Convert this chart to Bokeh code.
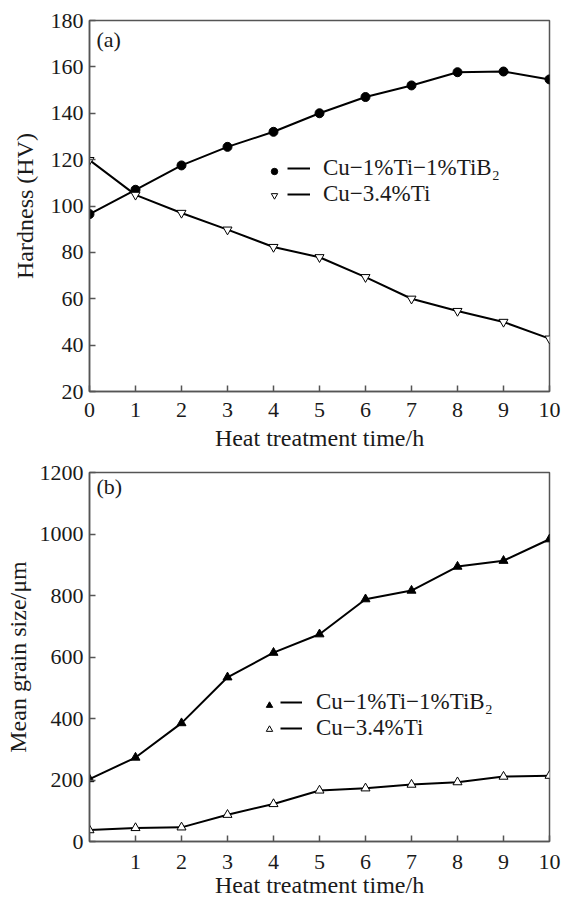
from bokeh.plotting import figure
from bokeh.models import Range1d, FixedTicker, Legend, LegendItem, Label
from bokeh.layouts import column
from bokeh.embed import file_html
from bokeh.resources import INLINE

# ---- data ----
time_h = [0, 1, 2, 3, 4, 5, 6, 7, 8, 9, 10]
hard_tib2 = [96.5, 107, 117.5, 125.5, 132, 140, 147, 152, 157.7, 158, 154.6]
hard_ti = [119.8, 104.8, 97, 89.8, 82.3, 77.9, 69.3, 60, 54.7, 50, 42.8]
grain_tib2 = [203, 273, 385, 534, 614, 674, 788, 816, 894, 913, 983]
grain_ti = [37, 44, 46, 87, 122, 166, 173, 185, 193, 211, 214]
label_tib2 = "Cu\u22121%Ti\u22121%TiB\u2082"
label_ti = "Cu\u22123.4%Ti"
x_ticks_a = [0, 1, 2, 3, 4, 5, 6, 7, 8, 9, 10]
x_ticks_b = [1, 2, 3, 4, 5, 6, 7, 8, 9, 10]
y_ticks_a = [20, 40, 60, 80, 100, 120, 140, 160, 180]
y_ticks_b = [0, 200, 400, 600, 800, 1000, 1200]

FONT = "Liberation Serif"
TXT = "#1a1a1a"
FRAME = "#555555"


def base_fig(height, ymin, ymax, xticks, yticks, ylabel, bt, bb, xs1, xs2, ys2):
    p = figure(width=561, height=height, x_range=Range1d(0, 10),
               y_range=Range1d(ymin, ymax), output_backend="svg",
               toolbar_location=None, min_border_left=89, min_border_right=12,
               min_border_top=bt, min_border_bottom=bb)
    p.grid.visible = False
    p.outline_line_color = FRAME
    p.outline_line_width = 1.5
    p.background_fill_color = "white"
    p.border_fill_color = "white"
    p.xaxis.ticker = FixedTicker(ticks=xticks)
    p.yaxis.ticker = FixedTicker(ticks=yticks)
    for ax in (p.xaxis[0], p.yaxis[0]):
        ax.major_tick_in = 6
        ax.major_tick_out = 0
        ax.minor_tick_line_color = None
        ax.axis_line_color = FRAME
        ax.axis_line_width = 1.5
        ax.major_tick_line_color = FRAME
        ax.major_tick_line_width = 1.5
        ax.major_label_text_font = FONT
        ax.major_label_text_font_size = "22px"
        ax.major_label_text_color = TXT
        ax.axis_label_text_font = FONT
        ax.axis_label_text_font_size = "24px"
        ax.axis_label_text_font_style = "normal"
        ax.axis_label_text_color = TXT
    p.xaxis.axis_label = "Heat treatment time/h"
    p.yaxis.axis_label = ylabel
    p.xaxis.major_label_standoff = xs1
    p.xaxis.axis_label_standoff = xs2
    p.yaxis.major_label_standoff = 6
    p.yaxis.axis_label_standoff = ys2
    return p


def add_legends(p, r1s, r1l, r2s, r2l, ax, bx, y, gw, so):
    common = dict(background_fill_alpha=0, border_line_color=None, padding=0,
                  margin=0, spacing=0, label_text_font=FONT,
                  label_text_font_size="23px", label_text_color=TXT,
                  label_height=24, glyph_height=24)
    la = Legend(items=[LegendItem(label=" ", renderers=[r1s]),
                       LegendItem(label=" ", renderers=[r2s])],
                location=(ax, y), glyph_width=16, label_standoff=0,
                label_width=0, **common)
    lb = Legend(items=[LegendItem(label=r1l[1], renderers=[r1l[0]]),
                       LegendItem(label=r2l[1], renderers=[r2l[0]])],
                location=(bx, y), glyph_width=gw, label_standoff=so, **common)
    p.add_layout(la)
    p.add_layout(lb)


# ---- panel (a) ----
pa = base_fig(455, 20, 180, x_ticks_a, y_ticks_a, "Hardness (HV)", 20, 64, 11, 5, 10)
la1 = pa.line(time_h, hard_tib2, line_color="black", line_width=2)
sa1 = pa.scatter(time_h, hard_tib2, marker="circle", size=9,
                 fill_color="black", line_color="black")
la2 = pa.line(time_h, hard_ti, line_color="black", line_width=2)
sa2 = pa.scatter(time_h, hard_ti, marker="inverted_triangle", size=9,
                 fill_color="white", line_color="black", line_width=1)
add_legends(pa, sa1, (la1, label_tib2), sa2, (la2, label_ti), 177, 198, 184, 23, 13)
pa.add_layout(Label(x=7, y=352, x_units="screen", y_units="screen", text="(a)",
                    text_font=FONT, text_font_size="22px", text_color=TXT,
                    text_baseline="middle"))

# ---- panel (b) ----
pb = base_fig(445, 0, 1200, x_ticks_b, y_ticks_b, "Mean grain size/\u03bcm", 17, 58, 13, 0, 6)
lb1 = pb.line(time_h, grain_tib2, line_color="black", line_width=2)
sb1 = pb.scatter(time_h, grain_tib2, marker="triangle", size=9,
                 fill_color="black", line_color="black")
lb2 = pb.line(time_h, grain_ti, line_color="black", line_width=2)
sb2 = pb.scatter(time_h, grain_ti, marker="triangle", size=9,
                 fill_color="white", line_color="black", line_width=1)
add_legends(pb, sb1, (lb1, label_tib2), sb2, (lb2, label_ti), 172, 191, 100, 22, 14)
pb.add_layout(Label(x=7, y=355, x_units="screen", y_units="screen", text="(b)",
                    text_font=FONT, text_font_size="22px", text_color=TXT,
                    text_baseline="middle"))

layout = column(pa, pb, spacing=0)
open("out.html", "w").write(file_html(layout, INLINE))
